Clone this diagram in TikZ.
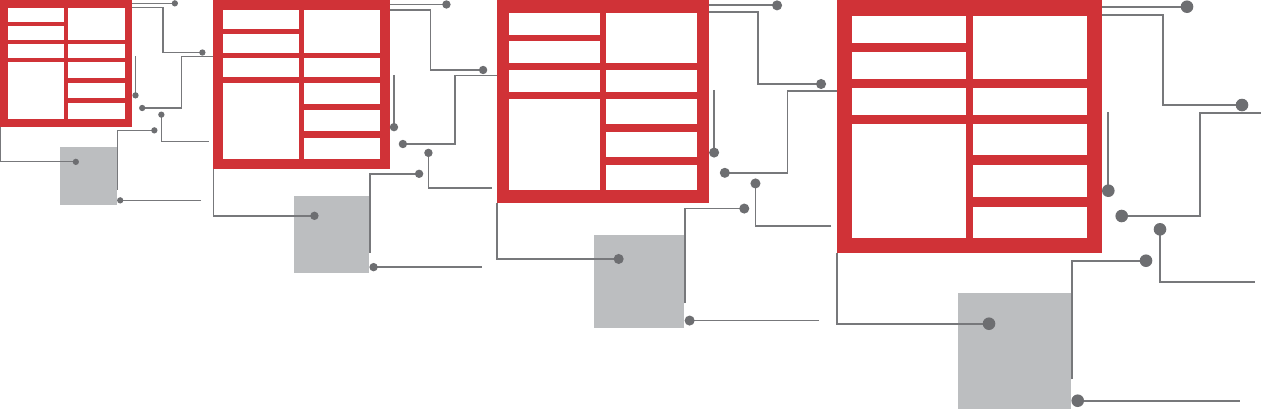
\documentclass[tikz,border=0pt]{standalone}
\definecolor{boxred}{HTML}{D03237}
\definecolor{linegray}{HTML}{77787B}
\definecolor{dotgray}{HTML}{6D6E71}
\definecolor{sqgray}{HTML}{BCBEC0}
\tikzset{
  frame/.style={fill=boxred},
  cell/.style={fill=white},
  square/.style={fill=sqgray},
  lead/.style={draw=linegray},
  dot/.style={fill=dotgray},
}
\begin{document}
\begin{tikzpicture}[x=1pt,y=-1pt]
\useasboundingbox (0,0) rectangle (1261,408);
\clip (0,0) rectangle (1261,408);
\foreach \nm/\xo/\s in {m1/0/0.5, m2/213.3/0.66667, m3/497.3/0.8, m4/837.3/1}{
  \pgfmathsetmacro{\lw}{2.2*\s}
  \pgfmathsetmacro{\rd}{6.3}
  \begin{scope}[x=\s pt, y=-\s pt, shift={(\xo pt,0pt)}, line width=\lw pt]
    % red frame with white cells
    \fill[frame] (0,-0.5) rectangle (264.4,253.3);
    \fill[cell] (15,15.7) rectangle (128.4,43.3);
    \fill[cell] (15,51.7) rectangle (128.4,79.3);
    \fill[cell] (15,87.7) rectangle (128.4,115.3);
    \fill[cell] (15,124) rectangle (128.4,238);
    \fill[cell] (136,15.7) rectangle (249.4,79.3);
    \fill[cell] (136,87.7) rectangle (249.4,115.3);
    \fill[cell] (136,124) rectangle (249.4,155.3);
    \fill[cell] (136,165) rectangle (249.4,196.7);
    \fill[cell] (136,206.7) rectangle (249.4,238);
    % grey square
    \fill[square] (120.7,293.3) rectangle (233.4,409.5);
    % named points
    \coordinate (\nm-a0) at (264.4,6.7);   \coordinate (\nm-a)  at (349.7,6.7);
    \coordinate (\nm-b0) at (264.4,15.3);  \coordinate (\nm-b)  at (404.7,105);
    \coordinate (\nm-c0) at (425,113.3);   \coordinate (\nm-c)  at (284.4,216);
    \coordinate (\nm-d0) at (271,112.3);   \coordinate (\nm-d)  at (271,190.7);
    \coordinate (\nm-e0) at (417.4,282.3); \coordinate (\nm-e)  at (322.7,229.3);
    \coordinate (\nm-f0) at (234.7,379.3); \coordinate (\nm-f)  at (308.7,260.7);
    \coordinate (\nm-g0) at (402.4,400.7); \coordinate (\nm-g)  at (240.4,400.7);
    \coordinate (\nm-h0) at (0,253.3);     \coordinate (\nm-h)  at (151.7,323.7);
    % leader lines
    \draw[lead] (\nm-a0) -- (\nm-a);
    \draw[lead] (\nm-b0) -| (326,105) -- (\nm-b);
    \draw[lead] (\nm-c0) -| (362.7,216) -- (\nm-c);
    \draw[lead] (\nm-d0) -- (\nm-d);
    \draw[lead] (\nm-e0) -| (\nm-e);
    \draw[lead] (\nm-f0) |- (\nm-f);
    \draw[lead] (\nm-g0) -- (\nm-g);
    \draw[lead] (\nm-h0) |- (\nm-h);
    % dots
    \foreach \p in {a,b,c,d,e,f,g,h}{
      \fill[dot] (\nm-\p) circle[radius=\rd];
    }
  \end{scope}
}
\end{tikzpicture}
\end{document}
